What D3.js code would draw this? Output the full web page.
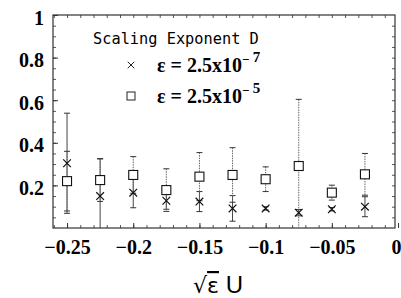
<!DOCTYPE html>
<html>
<head>
<meta charset="utf-8">
<script src="https://cdn.jsdelivr.net/npm/d3@7"></script>
<style>
  body { margin: 0; background: #fff; }
  svg { display: block; }
  .tick text { font-family: "Liberation Serif", serif; font-weight: bold; font-size: 20px; fill: #000; }
</style>
</head>
<body>
<div id="chart"></div>
<script>
// x positions (sqrt(eps) U)
const xs = [-0.25, -0.225, -0.2, -0.175, -0.15, -0.125, -0.1, -0.075, -0.05, -0.025];
// eps = 2.5x10^-7  (crosses)
const crossVals = [0.304, 0.150, 0.166, 0.128, 0.124, 0.092, 0.092, 0.072, 0.088, 0.100];
const crossErr  = [0.235, 0.175, 0.071, 0.040, 0.047, 0.060, 0.008, 0.015, 0.008, 0.047];
// eps = 2.5x10^-5  (squares)
const squareVals = [0.220, 0.225, 0.249, 0.178, 0.241, 0.249, 0.229, 0.291, 0.166, 0.252];
const squareErr  = [0.140, 0.100, 0.086, 0.100, 0.113, 0.128, 0.058, 0.313, 0.035, 0.098];

const xTicks = [-0.25, -0.2, -0.15, -0.1, -0.05, 0];
const xTickLabels = ["\u22120.25", "\u22120.2", "\u22120.15", "\u22120.1", "\u22120.05", "0"];
const yTicks = [0.2, 0.4, 0.6, 0.8, 1];
const yTickLabels = ["0.2", "0.4", "0.6", "0.8", "1"];

const W = 401, H = 298;
const margin = {top: 15, right: 6, bottom: 70, left: 53};
const iw = W - margin.left - margin.right, ih = H - margin.top - margin.bottom;

const svg = d3.select("#chart").append("svg")
  .attr("width", W).attr("height", H);

const x = d3.scaleLinear().domain([-0.2606, -0.0023]).range([0, iw]);
const y = d3.scaleLinear().domain([0, 1]).range([ih, 0]);

const g = svg.append("g").attr("transform", `translate(${margin.left},${margin.top})`);

// clip for bars that run past the bottom
g.append("clipPath").attr("id", "plotclip")
  .append("rect").attr("width", iw).attr("height", ih);

// minor ticks on all four sides
const minorX = d3.range(-0.26, 0, 0.01).map(v => +v.toFixed(2)).filter(v => v >= -0.2606);
const minorY = d3.range(0.05, 1, 0.05).map(v => +v.toFixed(2));

function minor(axis, tr) {
  g.append("g").attr("transform", tr || null)
    .call(axis.tickSize(-3).tickFormat(""))
    .call(a => a.select(".domain").remove())
    .selectAll("line").attr("stroke", "#555");
}
minor(d3.axisBottom(x).tickValues(minorX), `translate(0,${ih})`);
minor(d3.axisTop(x).tickValues(minorX));
minor(d3.axisLeft(y).tickValues(minorY));
minor(d3.axisRight(y).tickValues(minorY), `translate(${iw},0)`);

// major ticks + labels
g.append("g").attr("transform", `translate(0,${ih})`)
  .call(d3.axisBottom(x).tickValues(xTicks).tickSize(-5).tickPadding(12)
    .tickFormat((d, i) => xTickLabels[i]))
  .call(a => a.select(".domain").remove())
  .call(a => a.selectAll("line").attr("stroke", "#333"))
  .call(a => a.selectAll("text").filter(d => d === 0).attr("text-anchor", "end").attr("dx", 3));

g.append("g")
  .call(d3.axisLeft(y).tickValues(yTicks).tickSize(-5).tickPadding(9)
    .tickFormat((d, i) => yTickLabels[i]))
  .call(a => a.select(".domain").remove())
  .call(a => a.selectAll("line").attr("stroke", "#333"))
  .call(a => a.selectAll("text").attr("dy", "0.45em"));

// frame
g.append("rect").attr("width", iw).attr("height", ih)
  .attr("fill", "none").attr("stroke", "#333").attr("stroke-width", 1.2);

const plot = g.append("g").attr("clip-path", "url(#plotclip)");

function errorBars(vals, errs, dash, color) {
  const eb = plot.append("g").selectAll("g").data(xs).join("g");
  eb.append("line")
    .attr("x1", d => x(d)).attr("x2", d => x(d))
    .attr("y1", (d, i) => y(vals[i] + errs[i]))
    .attr("y2", (d, i) => y(vals[i] - errs[i]))
    .attr("stroke", color).attr("stroke-width", 1)
    .attr("stroke-dasharray", dash);
  [1, -1].forEach(s => {
    eb.append("line")
      .attr("x1", d => x(d) - 3).attr("x2", d => x(d) + 3)
      .attr("y1", (d, i) => y(vals[i] + s * errs[i]))
      .attr("y2", (d, i) => y(vals[i] + s * errs[i]))
      .attr("stroke", "#333").attr("stroke-width", 1);
  });
}
errorBars(crossVals, crossErr, null, "#444");
errorBars(squareVals, squareErr, "1.5,1", "#666");

// markers
const sym = d3.symbol().type(d3.symbolX).size(40);
g.append("g").selectAll("path").data(xs).join("path")
  .attr("transform", (d, i) => `translate(${x(d)},${y(crossVals[i])})`)
  .attr("d", sym).attr("fill", "none").attr("stroke", "#111").attr("stroke-width", 1.2);

g.append("g").selectAll("rect").data(xs).join("rect")
  .attr("x", d => x(d) - 4.5).attr("y", (d, i) => y(squareVals[i]) - 4.5)
  .attr("width", 9).attr("height", 9)
  .attr("fill", "#fff").attr("stroke", "#111").attr("stroke-width", 1.1);

// legend
const legend = svg.append("g");
legend.append("text").attr("x", 93).attr("y", 44)
  .attr("font-family", "DejaVu Sans Mono, monospace").attr("font-size", 15.3)
  .text("Scaling Exponent D");

const legendRows = [
  {label: "2.5x10", exp: "7", yy: 72, kind: "x"},
  {label: "2.5x10", exp: "5", yy: 103, kind: "sq"}
];
legendRows.forEach(r => {
  if (r.kind === "x") {
    legend.append("path").attr("transform", `translate(131,${r.yy - 7})`)
      .attr("d", d3.symbol().type(d3.symbolX).size(30)())
      .attr("fill", "none").attr("stroke", "#222").attr("stroke-width", 1);
  } else {
    legend.append("rect").attr("x", 127).attr("y", r.yy - 11).attr("width", 8).attr("height", 8)
      .attr("fill", "#fff").attr("stroke", "#222").attr("stroke-width", 1);
  }
  const t = legend.append("text").attr("x", 157).attr("y", r.yy)
    .attr("font-family", "Liberation Serif, serif").attr("font-weight", "bold").attr("font-size", 20);
  t.append("tspan").text("\u03B5 = " + r.label);
  t.append("tspan").attr("dy", -8).attr("font-size", 13).text("\u2212 ");
  t.append("tspan").attr("dy", -2).attr("font-size", 15).text(r.exp);
});

// x-axis title
const title = svg.append("text").attr("x", 218).attr("y", 293)
  .attr("text-anchor", "middle")
  .attr("font-family", "DejaVu Sans, sans-serif").attr("font-size", 22);
title.append("tspan").text("\u221A");
title.append("tspan").attr("text-decoration", "overline").text("\u03B5");
title.append("tspan").attr("font-family", "Liberation Sans Narrow, Liberation Sans, sans-serif")
  .attr("font-size", 24).text(" U");
</script>
</body>
</html>
